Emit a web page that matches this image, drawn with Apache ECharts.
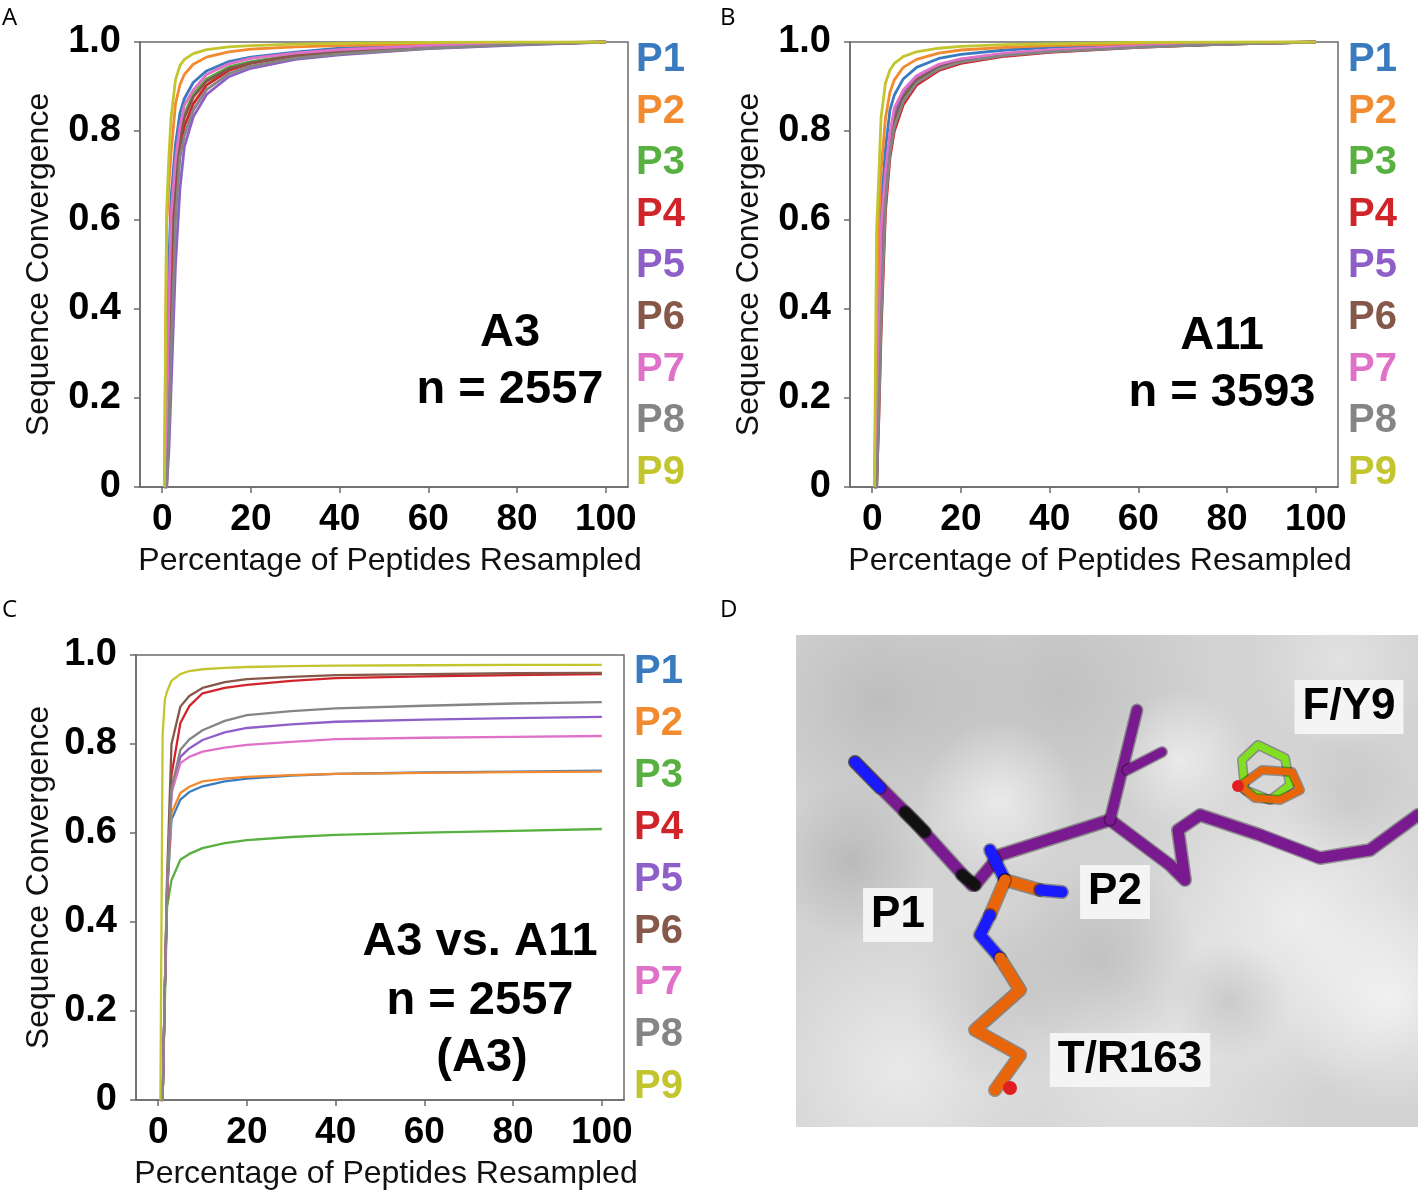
<!DOCTYPE html>
<html><head><meta charset="utf-8">
<script src="https://cdn.jsdelivr.net/npm/echarts@6/dist/echarts.min.js"></script>
<style>html,body{margin:0;padding:0;background:#fff}#c{width:1418px;height:1191px}</style>
</head><body><div id="c"></div>
<script>
// ---------- data ----------
const seriesNames = ['P1','P2','P3','P4','P5','P6','P7','P8','P9'];
const seriesColors = ['#3a7bbf','#f28a30','#58b040','#d0242b','#8e5fc8','#85584a','#df71c8','#858585','#c2c52e'];
const xTickValues = [0,20,40,60,80,100];
const yTickLabels = ['0','0.2','0.4','0.6','0.8','1.0'];

// Panel A (A3, n = 2557)
const xA = [0.5,1,1.5,2,3,4,5,7,10,15,20,30,40,60,80,100];
const A_P1 = [0,0.145,0.50,0.65,0.77,0.84,0.873,0.909,0.935,0.956,0.966,0.977,0.986,0.994,0.998,1.0];
const A_P2 = [0,0.59,0.68,0.75,0.861,0.904,0.927,0.950,0.966,0.978,0.984,0.989,0.992,0.996,0.998,1.0];
const A_P3 = [0,0.05,0.31,0.58,0.727,0.79,0.838,0.883,0.917,0.944,0.956,0.971,0.980,0.990,0.996,1.0];
const A_P4 = [0,0,0.20,0.41,0.66,0.765,0.81,0.861,0.903,0.936,0.952,0.968,0.976,0.988,0.995,1.0];
const A_P5 = [0,0,0.08,0.22,0.50,0.67,0.765,0.832,0.882,0.922,0.941,0.961,0.971,0.985,0.993,1.0];
const A_P6 = [0,0.045,0.29,0.53,0.70,0.78,0.83,0.876,0.912,0.940,0.953,0.970,0.978,0.989,0.995,1.0];
const A_P7 = [0,0.116,0.406,0.608,0.735,0.81,0.858,0.892,0.927,0.951,0.963,0.975,0.983,0.992,0.997,1.0];
const A_P8 = [0,0,0.13,0.30,0.60,0.74,0.79,0.847,0.893,0.929,0.946,0.964,0.973,0.986,0.994,1.0];
const A_P9 = [0,0.62,0.74,0.83,0.915,0.947,0.961,0.974,0.983,0.989,0.992,0.995,0.997,0.999,1.0,1.0];

// Panel B (A11, n = 3593)
const xB = [0.5,1,1.5,2,3,4,5,7,10,15,20,30,40,60,80,100];
const B_P1 = [0,0.13,0.45,0.63,0.76,0.847,0.881,0.917,0.943,0.963,0.972,0.982,0.988,0.994,0.998,1.0];
const B_P2 = [0,0.29,0.60,0.71,0.83,0.887,0.915,0.943,0.961,0.975,0.982,0.988,0.992,0.996,0.999,1.0];
const B_P3 = [0,0,0.24,0.48,0.68,0.77,0.834,0.882,0.918,0.945,0.959,0.973,0.980,0.990,0.995,1.0];
const B_P4 = [0,0,0.155,0.345,0.62,0.74,0.80,0.859,0.903,0.936,0.952,0.968,0.977,0.988,0.995,1.0];
const B_P5 = [0,0.045,0.29,0.53,0.695,0.785,0.843,0.888,0.922,0.948,0.961,0.974,0.981,0.990,0.996,1.0];
const B_P6 = [0,0,0.22,0.445,0.66,0.76,0.825,0.876,0.914,0.943,0.957,0.971,0.979,0.989,0.995,1.0];
const B_P7 = [0,0.05,0.31,0.58,0.71,0.795,0.852,0.892,0.924,0.950,0.962,0.975,0.982,0.991,0.996,1.0];
const B_P8 = [0,0,0.165,0.37,0.64,0.75,0.81,0.866,0.908,0.939,0.955,0.970,0.978,0.988,0.995,1.0];
const B_P9 = [0,0.58,0.70,0.83,0.908,0.937,0.952,0.967,0.978,0.986,0.990,0.994,0.996,0.999,1.0,1.0];

// Panel C (A3 vs. A11)
const xC = [0.5,1,1.5,2,3,5,7,10,15,20,30,40,60,80,100];
const C_P1 = [0,0,0.25,0.46,0.63,0.675,0.692,0.705,0.716,0.722,0.729,0.733,0.736,0.738,0.740];
const C_P2 = [0,0,0.25,0.47,0.645,0.690,0.704,0.716,0.722,0.726,0.730,0.733,0.735,0.737,0.738];
const C_P3 = [0,0,0.22,0.434,0.494,0.540,0.553,0.566,0.577,0.584,0.591,0.596,0.601,0.605,0.609];
const C_P4 = [0,0,0.25,0.45,0.73,0.847,0.885,0.914,0.926,0.933,0.942,0.948,0.952,0.955,0.957];
const C_P5 = [0,0,0.25,0.47,0.69,0.771,0.790,0.809,0.826,0.836,0.844,0.850,0.855,0.858,0.861];
const C_P6 = [0,0,0.25,0.50,0.80,0.884,0.908,0.926,0.939,0.946,0.951,0.955,0.957,0.959,0.960];
const C_P7 = [0,0,0.25,0.47,0.69,0.757,0.771,0.783,0.792,0.798,0.805,0.811,0.814,0.816,0.818];
const C_P8 = [0,0,0.25,0.48,0.70,0.787,0.810,0.831,0.852,0.865,0.874,0.880,0.886,0.891,0.894];
const C_P9 = [0,0.82,0.90,0.918,0.942,0.957,0.964,0.968,0.971,0.973,0.975,0.976,0.977,0.978,0.978];

const panelA = [A_P1,A_P2,A_P3,A_P4,A_P5,A_P6,A_P7,A_P8,A_P9];
const panelB = [B_P1,B_P2,B_P3,B_P4,B_P5,B_P6,B_P7,B_P8,B_P9];
const panelC = [C_P1,C_P2,C_P3,C_P4,C_P5,C_P6,C_P7,C_P8,C_P9];

// ---------- chart ----------
const FONT = '"Liberation Sans", Arial, sans-serif';
const chart = echarts.init(document.getElementById('c'), null, {renderer:'canvas'});

const grids = [
  {left:140, top:42, width:488, height:445},
  {left:850, top:42, width:488, height:445},
  {left:136, top:655, width:488, height:445}
];
const yNameGaps = [85,85,81];
const axisColor = '#6b6b6b';

function mkX(i){
  return {
    type:'value', gridIndex:i, min:-5, max:105,
    axisLine:{show:true, onZero:false, lineStyle:{color:axisColor, width:1.5}},
    axisTick:{show:true, length:6, customValues:xTickValues, lineStyle:{color:axisColor, width:1.5}},
    axisLabel:{customValues:xTickValues, fontFamily:FONT, fontSize:37, fontWeight:'bold', color:'#000', margin:14},
    splitLine:{show:false},
    name:'Percentage of Peptides Resampled', nameLocation:'middle', nameGap:58,
    nameTextStyle:{fontFamily:FONT, fontSize:32, color:'#111', padding:[0,0,0,12]}
  };
}
function mkY(i){
  return {
    type:'value', gridIndex:i, min:0, max:1, interval:0.2,
    axisLine:{show:true, onZero:false, lineStyle:{color:axisColor, width:1.5}},
    axisTick:{show:true, length:6, lineStyle:{color:axisColor, width:1.5}},
    axisLabel:{fontFamily:FONT, fontSize:38, fontWeight:'bold', color:'#000', margin:19,
      formatter:(v)=>yTickLabels[Math.round(v*5)]},
    splitLine:{show:false},
    name:'Sequence Convergence', nameLocation:'middle', nameGap:yNameGaps[i], nameRotate:90,
    nameTextStyle:{fontFamily:FONT, fontSize:32, color:'#111'}
  };
}

const series = [];
[[panelA,xA],[panelB,xB],[panelC,xC]].forEach(([panel,xs],gi)=>{
  panel.forEach((arr,k)=>{
    series.push({
      type:'line', xAxisIndex:gi, yAxisIndex:gi, name:seriesNames[k],
      data: xs.map((x,j)=>[x,arr[j]]),
      showSymbol:false, smooth:false,
      lineStyle:{width: gi===2 ? 2.3 : 2.8, color:seriesColors[k], join:'round'},
      itemStyle:{color:seriesColors[k]},
      z: 2, silent:true, animation:false
    });
  });
});

const graphic = [];
// legend texts
const legendPos = [[636,60,51.6],[1348,60,51.6],[634,672,51.9]];
legendPos.forEach(([lx,ly,gap])=>{
  seriesNames.forEach((n,k)=>{
    graphic.push({type:'text', x:lx, y:ly+gap*k, style:{text:n, fill:seriesColors[k],
      font:'bold 40px '+FONT, textVerticalAlign:'middle'}});
  });
});
// annotations
function ann(text,cx,cy){
  graphic.push({type:'text', x:cx, y:cy, style:{text:text, fill:'#000', font:'bold 47px '+FONT,
    textAlign:'center', textVerticalAlign:'middle'}});
}
ann('A3',510,333); ann('n = 2557',510,390);
ann('A11',1222,336); ann('n = 3593',1222,393);
ann('A3 vs. A11',480,942); ann('n = 2557',480,1001); ann('(A3)',482,1058);
// panel letters
[['A',2,18],['B',720,18],['C',2,610],['D',720,610]].forEach(([t,x,y])=>{
  graphic.push({type:'text', x:x, y:y, style:{text:t, fill:'#000', font:'24px "Open Sans", sans-serif',
    textVerticalAlign:'middle'}});
});

// panel D: stylised structure picture
const D = {x:796,y:635,w:622,h:492};
graphic.push({type:'rect', shape:{x:D.x,y:D.y,width:D.w,height:D.h}, style:{fill:'#d3d3d3'}, z:0});
const blobsDef = [
  [880,700,140,'150,150,150',0.35],[1060,690,160,'160,160,160',0.35],[1300,920,170,'255,255,255',0.6],
  [900,1070,150,'255,255,255',0.5],[1150,1060,170,'245,245,245',0.5],[1390,1000,110,'255,255,255',0.6],
  [1000,800,80,'255,255,255',0.55],[1180,760,70,'255,255,255',0.55],[850,860,80,'140,140,140',0.35],
  [1100,960,100,'150,150,150',0.35],[1340,660,90,'240,240,240',0.5],[1230,1000,60,'150,150,150',0.3],
  [1000,1000,90,'170,170,170',0.3],[1350,800,70,'170,170,170',0.3]
];
const blobGroup = {type:'group', z:1, clipPath:{type:'rect', shape:{x:D.x,y:D.y,width:D.w,height:D.h}}, children:[]};
blobsDef.forEach(([cx,cy,r,rgb,a])=>{
  blobGroup.children.push({type:'circle', shape:{cx:cx,cy:cy,r:r}, style:{fill:{type:'radial',x:0.5,y:0.5,r:0.5,
    colorStops:[{offset:0,color:'rgba('+rgb+','+a+')'},{offset:1,color:'rgba('+rgb+',0)'}]}}});
});
graphic.push(blobGroup);
function stick(points,color,w){
  graphic.push({type:'polyline', shape:{points:points}, style:{stroke:'rgba(0,0,0,0.35)', lineWidth:(w||11)+3, lineCap:'round', lineJoin:'round', fill:null}, z:3});
  graphic.push({type:'polyline', shape:{points:points}, style:{stroke:color, lineWidth:w||11, lineCap:'round', lineJoin:'round', fill:null}, z:3});
}
// purple peptide
stick([[975,885],[1000,855],[1110,820],[1170,865],[1185,880],[1178,830],[1200,815],[1260,835],[1320,858],[1370,850],[1418,815]],'#7a1a90',11);
stick([[1110,820],[1137,710]],'#7a1a90',10);
stick([[1127,770],[1162,752]],'#7a1a90',9);
stick([[855,762],[915,822],[972,885]],'#7a1a90',11);
stick([[855,762],[880,788]],'#1a1aff',11);
stick([[905,812],[925,832]],'#111',11);
stick([[962,875],[975,885]],'#111',11);
// orange arginine
stick([[990,850],[1005,880]],'#1a1aff',11);
stick([[1005,880],[1040,890]],'#e8650a',11);
stick([[1040,890],[1062,892]],'#1a1aff',11);
stick([[1005,880],[990,915]],'#e8650a',11);
stick([[990,915],[980,935],[1000,958]],'#1a1aff',11);
stick([[1000,958],[1020,990],[975,1030],[1020,1055],[995,1090]],'#e8650a',11);
graphic.push({type:'circle', shape:{cx:1010,cy:1088,r:7}, style:{fill:'#e02020'}, z:4});
// F/Y9 ring
stick([[1242,760],[1258,745],[1285,758],[1290,785],[1270,800],[1245,790],[1242,760]],'#7fdf20',7);
stick([[1240,786],[1262,770],[1292,772],[1300,790],[1280,800],[1255,798],[1240,786]],'#e8650a',7);
graphic.push({type:'circle', shape:{cx:1238,cy:786,r:6}, style:{fill:'#e02020'}, z:4});
// D labels
function dlab(t,cx,cy){
  graphic.push({type:'text', x:cx, y:cy, z:5, style:{text:t, fill:'#000', font:'bold 44px '+FONT,
    textAlign:'center', textVerticalAlign:'middle', backgroundColor:'#f4f4f4', padding:[6,8,4,8]}});
}
dlab('F/Y9',1349,707); dlab('P1',898,915); dlab('P2',1115,892); dlab('T/R163',1130,1060);

chart.setOption({
  animation:false,
  backgroundColor:'#fff',
  grid: grids.map(g=>Object.assign({show:true, borderColor:axisColor, borderWidth:1.5, backgroundColor:'transparent'},g)),
  xAxis:[mkX(0),mkX(1),mkX(2)],
  yAxis:[mkY(0),mkY(1),mkY(2)],
  series: series,
  graphic: graphic
});
</script></body></html>
